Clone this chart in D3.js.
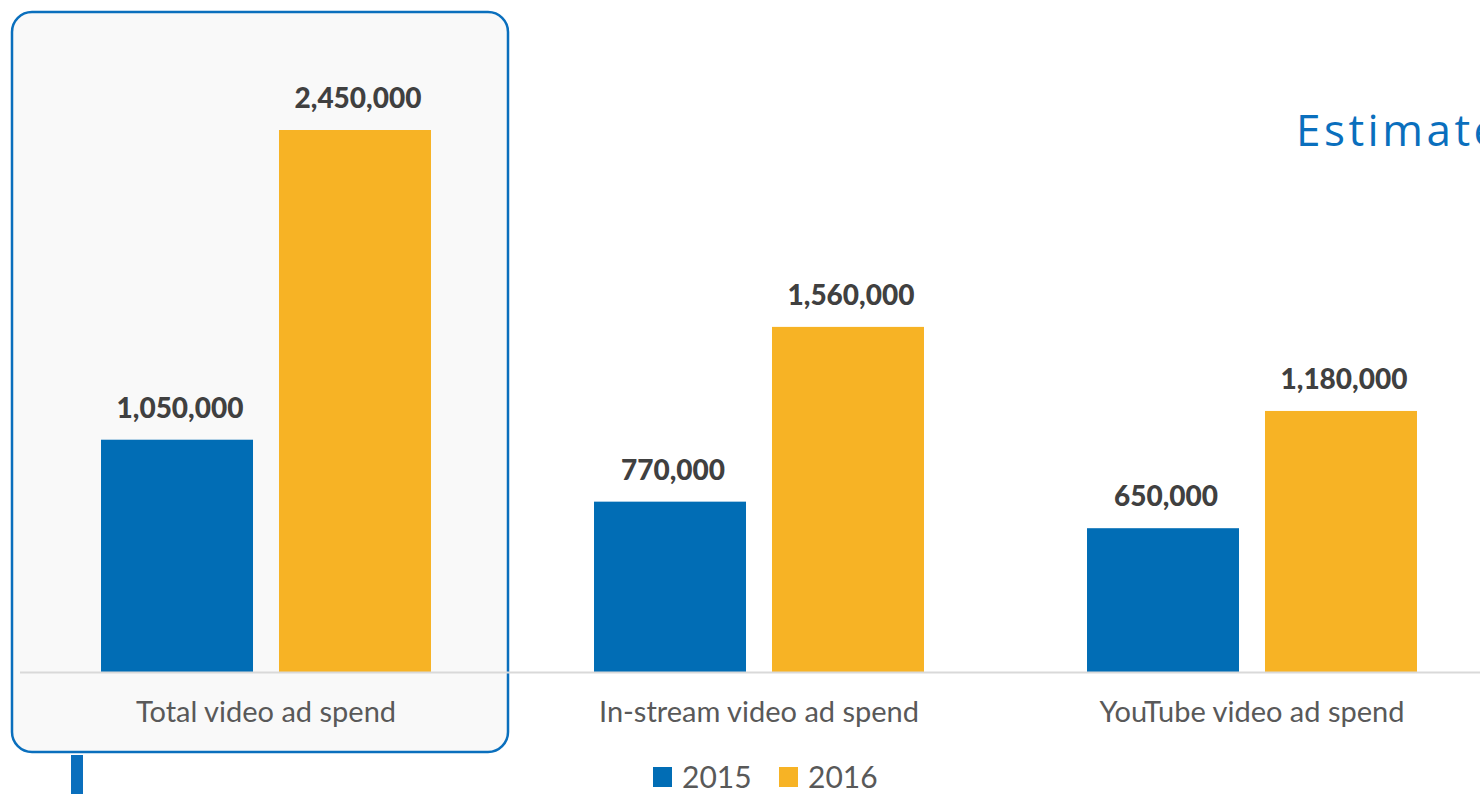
<!DOCTYPE html>
<html>
<head>
<meta charset="utf-8">
<script src="https://cdn.jsdelivr.net/npm/d3@7"></script>
<style>
  html, body { margin: 0; padding: 0; background: #ffffff; }
  svg { display: block; }
</style>
</head>
<body>
<svg id="chart" width="1480" height="794"></svg>
<script>
// Video ad spend by category, 2015 vs 2016
const categories = ["Total video ad spend", "In-stream video ad spend", "YouTube video ad spend"];
const seriesNames = ["2015", "2016"];
const values2015 = [1050000, 770000, 650000];
const values2016 = [2450000, 1560000, 1180000];
const titleText = "Estimate";

const colors = { "2015": "#016db5", "2016": "#f7b325" };
const FONT = "Lato, 'Open Sans', sans-serif";

const rows = categories.map((c, i) => ({
  category: c,
  values: [
    { series: "2015", value: values2015[i] },
    { series: "2016", value: values2016[i] }
  ]
}));

const svg = d3.select("#chart");

// Highlight box around the first category
svg.append("rect")
  .attr("x", 12).attr("y", 12)
  .attr("width", 496).attr("height", 740)
  .attr("rx", 20).attr("ry", 20)
  .attr("fill", "#f9f9f9")
  .attr("stroke", "#0a6fbd")
  .attr("stroke-width", 2.5);

// Small accent bar under the box
svg.append("rect")
  .attr("x", 71).attr("y", 755)
  .attr("width", 12).attr("height", 40)
  .attr("fill", "#0a6fbd");

// Title (runs off the right edge)
svg.append("text")
  .attr("x", 1296).attr("y", 146)
  .attr("font-family", "'Open Sans', sans-serif")
  .attr("font-size", 44)
  .attr("letter-spacing", 3.5)
  .attr("fill", "#0a6fbd")
  .text(titleText);

// Scales
const x0 = d3.scaleBand()
  .domain(categories)
  .range([19.5, 1498.5])
  .paddingInner(0)
  .paddingOuter(0);

const x1 = d3.scaleBand()
  .domain(seriesNames)
  .range([0, x0.bandwidth()])
  .paddingInner(0.146)
  .paddingOuter(0.458);

const y = d3.scaleLinear()
  .domain([0, 2450000])
  .range([672, 130]);

const fmt = d3.format(",");

// Bars
const groups = svg.append("g")
  .selectAll("g")
  .data(rows)
  .join("g")
  .attr("transform", d => `translate(${x0(d.category)},0)`);

groups.selectAll("rect")
  .data(d => d.values)
  .join("rect")
  .attr("x", d => x1(d.series))
  .attr("y", d => y(d.value))
  .attr("width", x1.bandwidth())
  .attr("height", d => y(0) - y(d.value))
  .attr("fill", d => colors[d.series]);

// Value labels
groups.selectAll("text.value")
  .data(d => d.values)
  .join("text")
  .attr("class", "value")
  .attr("x", d => x1(d.series) + x1.bandwidth() / 2 + 3)
  .attr("y", d => y(d.value) - 22)
  .attr("text-anchor", "middle")
  .attr("font-family", FONT)
  .attr("font-weight", 900)
  .attr("font-size", 28)
  .attr("fill", "#404040")
  .text(d => fmt(d.value));

// Category axis
const axis = svg.append("g")
  .attr("transform", `translate(0,${y(0)})`)
  .call(d3.axisBottom(x0).tickSize(0).tickSizeOuter(0).tickPadding(0));

axis.select(".domain")
  .attr("stroke", "#d9d9d9")
  .attr("stroke-width", 2);

axis.selectAll(".tick text")
  .attr("y", 50)
  .attr("dy", 0)
  .attr("font-family", FONT)
  .attr("font-size", 29)
  .attr("fill", "#595959");

// Legend
const legendX = [653, 779];
const legend = svg.append("g")
  .selectAll("g")
  .data(seriesNames)
  .join("g")
  .attr("transform", (d, i) => `translate(${legendX[i]},767)`);

legend.append("rect")
  .attr("width", 19).attr("height", 20)
  .attr("fill", d => colors[d]);

legend.append("text")
  .attr("x", 29).attr("y", 21)
  .attr("font-family", FONT)
  .attr("font-size", 30)
  .attr("fill", "#595959")
  .text(d => d);
</script>
</body>
</html>
